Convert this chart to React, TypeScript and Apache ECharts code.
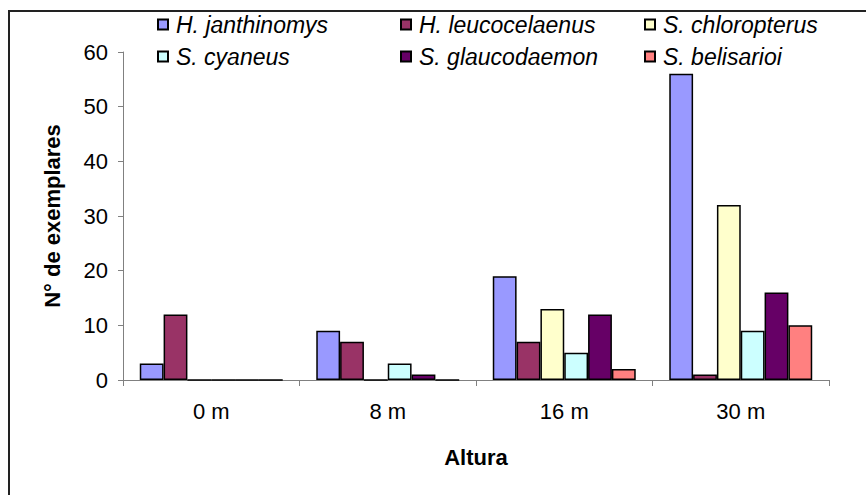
import React, { useEffect, useRef } from "react";
import * as echarts from "echarts";

const categories = ["0 m", "8 m", "16 m", "30 m"];
const seriesNames = [
  "H. janthinomys",
  "H. leucocelaenus",
  "S. chloropterus",
  "S. cyaneus",
  "S. glaucodaemon",
  "S. belisarioi",
];
const hJanthinomys = [3, 9, 19, 56];
const hLeucocelaenus = [12, 7, 7, 1];
const sChloropterus = [0, 0, 13, 32];
const sCyaneus = [0, 3, 5, 9];
const sGlaucodaemon = [0, 1, 12, 16];
const sBelisarioi = [0, 0, 2, 10];
const seriesValues = [hJanthinomys, hLeucocelaenus, sChloropterus, sCyaneus, sGlaucodaemon, sBelisarioi];
const colors = ["#9999FF", "#993366", "#FFFFCC", "#CCFFFF", "#660066", "#FF8080"];

const FONT = "Liberation Sans, Arial, sans-serif";
const FS = 22;

export default function App() {
  const ref = useRef<HTMLDivElement>(null);
  useEffect(() => {
    const chart = echarts.init(ref.current!, undefined, { renderer: "svg" });
    const legendCols = [
      { left: 157, names: [seriesNames[0], seriesNames[3]] },
      { left: 400, names: [seriesNames[1], seriesNames[4]] },
      { left: 644, names: [seriesNames[2], seriesNames[5]] },
    ];
    chart.setOption({
      animation: false,
      backgroundColor: "#ffffff",
      textStyle: { fontFamily: FONT },
      graphic: [
        {
          type: "rect",
          shape: { x: 9, y: 11, width: 900, height: 600 },
          style: { fill: "none", stroke: "#222", lineWidth: 2 },
          silent: true,
        },
      ],
      legend: legendCols.map((c) => ({
        data: c.names,
        left: c.left,
        top: 13,
        orient: "vertical",
        icon: "rect",
        itemWidth: 10,
        itemHeight: 10,
        itemGap: 9,
        padding: 0,
        selectedMode: false,
        textStyle: {
          fontSize: 23,
          lineHeight: 23,
          fontStyle: "italic",
          color: "#000",
          fontFamily: FONT,
          padding: [0, 0, 0, 3],
        },
      })),
      grid: { left: 123, right: 37, top: 52, bottom: 115, containLabel: false },
      xAxis: {
        type: "category",
        data: categories,
        name: "Altura",
        nameLocation: "middle",
        nameGap: 66,
        nameTextStyle: { fontSize: FS, fontWeight: "bold", color: "#000", fontFamily: FONT },
        axisLine: { lineStyle: { color: "#808080", width: 1 } },
        axisTick: { show: true, length: 6, lineStyle: { color: "#808080" } },
        axisLabel: { fontSize: FS, color: "#000", margin: 20, fontFamily: FONT },
        splitLine: { show: false },
      },
      yAxis: {
        type: "value",
        min: 0,
        max: 60,
        interval: 10,
        name: "N° de exemplares",
        nameLocation: "middle",
        nameGap: 60,
        nameTextStyle: { fontSize: FS, fontWeight: "bold", color: "#000", fontFamily: FONT },
        axisLine: { show: true, lineStyle: { color: "#808080", width: 1 } },
        axisTick: { show: true, length: 5, lineStyle: { color: "#808080" } },
        axisLabel: { fontSize: FS, color: "#000", margin: 15, fontFamily: FONT },
        splitLine: { show: false },
      },
      series: seriesNames.map((name, i) => ({
        name,
        type: "bar",
        data: seriesValues[i],
        barGap: "0%",
        barCategoryGap: "19%",
        itemStyle: { color: colors[i], borderColor: "#000", borderWidth: 1.5 },
      })),
    });
    return () => chart.dispose();
  }, []);
  return <div ref={ref} style={{ width: 866, height: 495, position: "absolute", left: 0, top: 0 }} />;
}
